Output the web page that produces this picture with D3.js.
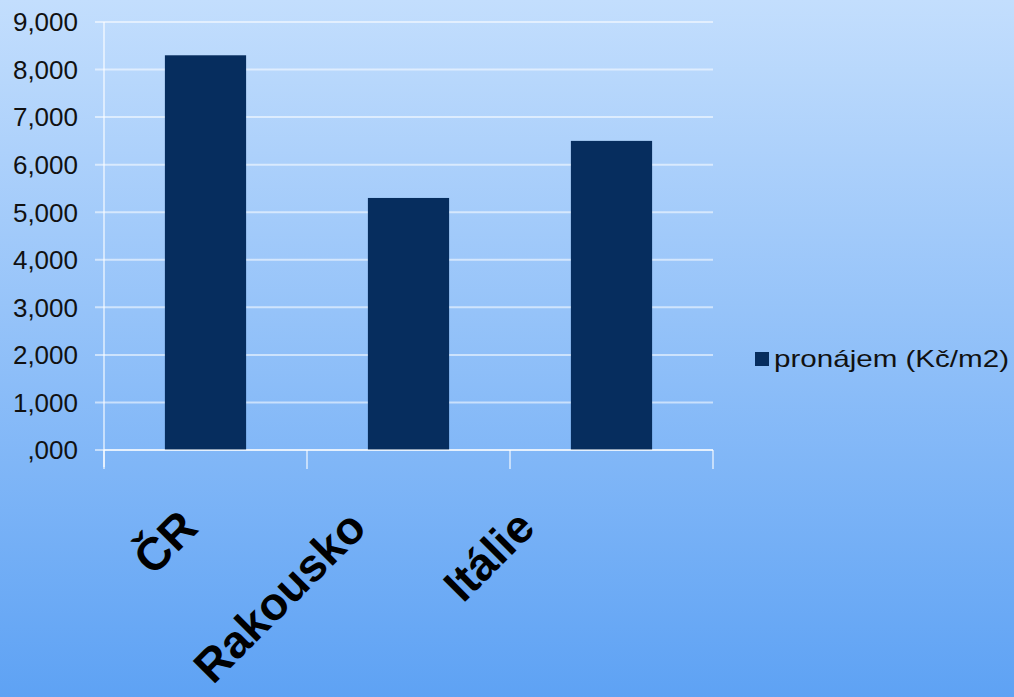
<!DOCTYPE html>
<html><head><meta charset="utf-8">
<script src="https://cdn.jsdelivr.net/npm/d3@7"></script>
<style>html,body{margin:0;padding:0;overflow:hidden}svg{display:block}</style>
</head><body>
<script>
const categories = ["ČR", "Rakousko", "Itálie"];
const values = [8300, 5300, 6500];
const seriesName = "pronájem (Kč/m2)";
const yTicks = [0, 1000, 2000, 3000, 4000, 5000, 6000, 7000, 8000, 9000];

(function(){
const W = 1014, H = 697;
const svg = d3.select("body").append("svg").attr("width", W).attr("height", H);
const defs = svg.append("defs");
const g = defs.append("linearGradient").attr("id","bg").attr("x1",0).attr("y1",0).attr("x2",0).attr("y2",1);
g.append("stop").attr("offset","0%").attr("stop-color","#c3defd");
g.append("stop").attr("offset","100%").attr("stop-color","#5ea2f4");
svg.append("rect").attr("width",W).attr("height",H).attr("fill","url(#bg)");

const pl = 104, pr = 713, pt = 22, pb = 450;
const x = d3.scaleBand().domain(categories).range([pl, pr]).paddingInner(0.6).paddingOuter(0.3);
const y = d3.scaleLinear().domain([0, 9000]).range([pb, pt]);

const fmt = v => v === 0 ? ",000" : d3.format(",.3f")(v/1000).replace(".", ",");
const lineCol = "rgba(255,255,255,0.55)";

// gridlines
svg.append("g").selectAll("line").data(yTicks).join("line")
  .attr("x1", pl - 9).attr("x2", pr)
  .attr("y1", d => y(d)).attr("y2", d => y(d))
  .attr("stroke", lineCol).attr("stroke-width", 2);

// tick labels
svg.append("g").selectAll("text").data(yTicks).join("text")
  .attr("x", 78).attr("y", d => y(d)).attr("dy", "0.36em")
  .attr("text-anchor", "end")
  .attr("font-family", "Liberation Sans, Arial, sans-serif")
  .attr("font-size", 26).attr("fill", "#111")
  .text(d => fmt(d));

// bars
svg.append("g").selectAll("rect").data(values).join("rect")
  .attr("x", (d,i) => x(categories[i]))
  .attr("width", x.bandwidth())
  .attr("y", d => y(d))
  .attr("height", d => y(0) - y(d))
  .attr("fill", "#062d5e");

// axes lines
svg.append("line").attr("x1", pl).attr("x2", pl).attr("y1", pt).attr("y2", 467)
  .attr("stroke", lineCol).attr("stroke-width", 2);
svg.append("line").attr("x1", pl).attr("x2", pr).attr("y1", pb).attr("y2", pb)
  .attr("stroke", lineCol).attr("stroke-width", 2);
const step = (pr - pl) / categories.length;
const bounds = d3.range(categories.length + 1).map(i => pl + i * step);
svg.append("g").selectAll("line").data(bounds).join("line")
  .attr("x1", d => d).attr("x2", d => d).attr("y1", pb).attr("y2", 469)
  .attr("stroke", lineCol).attr("stroke-width", 2);

// category labels
const lx = d3.scalePoint().domain(categories).range([200, 537]);
svg.append("g").selectAll("text").data(categories).join("text")
  .attr("transform", d => `translate(${lx(d)},530) rotate(-45)`)
  .attr("text-anchor", "end")
  .attr("font-family", "Liberation Sans, Arial, sans-serif")
  .attr("font-weight", "bold").attr("font-size", 46).attr("fill", "#000")
  .text(d => d);

// legend
svg.append("rect").attr("x", 755).attr("y", 352).attr("width", 14).attr("height", 14).attr("fill", "#062d5e");
svg.append("text").attr("x", 774).attr("y", 367)
  .attr("font-family", "Liberation Sans, Arial, sans-serif")
  .attr("font-size", 24).attr("fill", "#111")
  .attr("textLength", 235).attr("lengthAdjust", "spacingAndGlyphs")
  .text(seriesName);
})();
</script>
</body></html>
